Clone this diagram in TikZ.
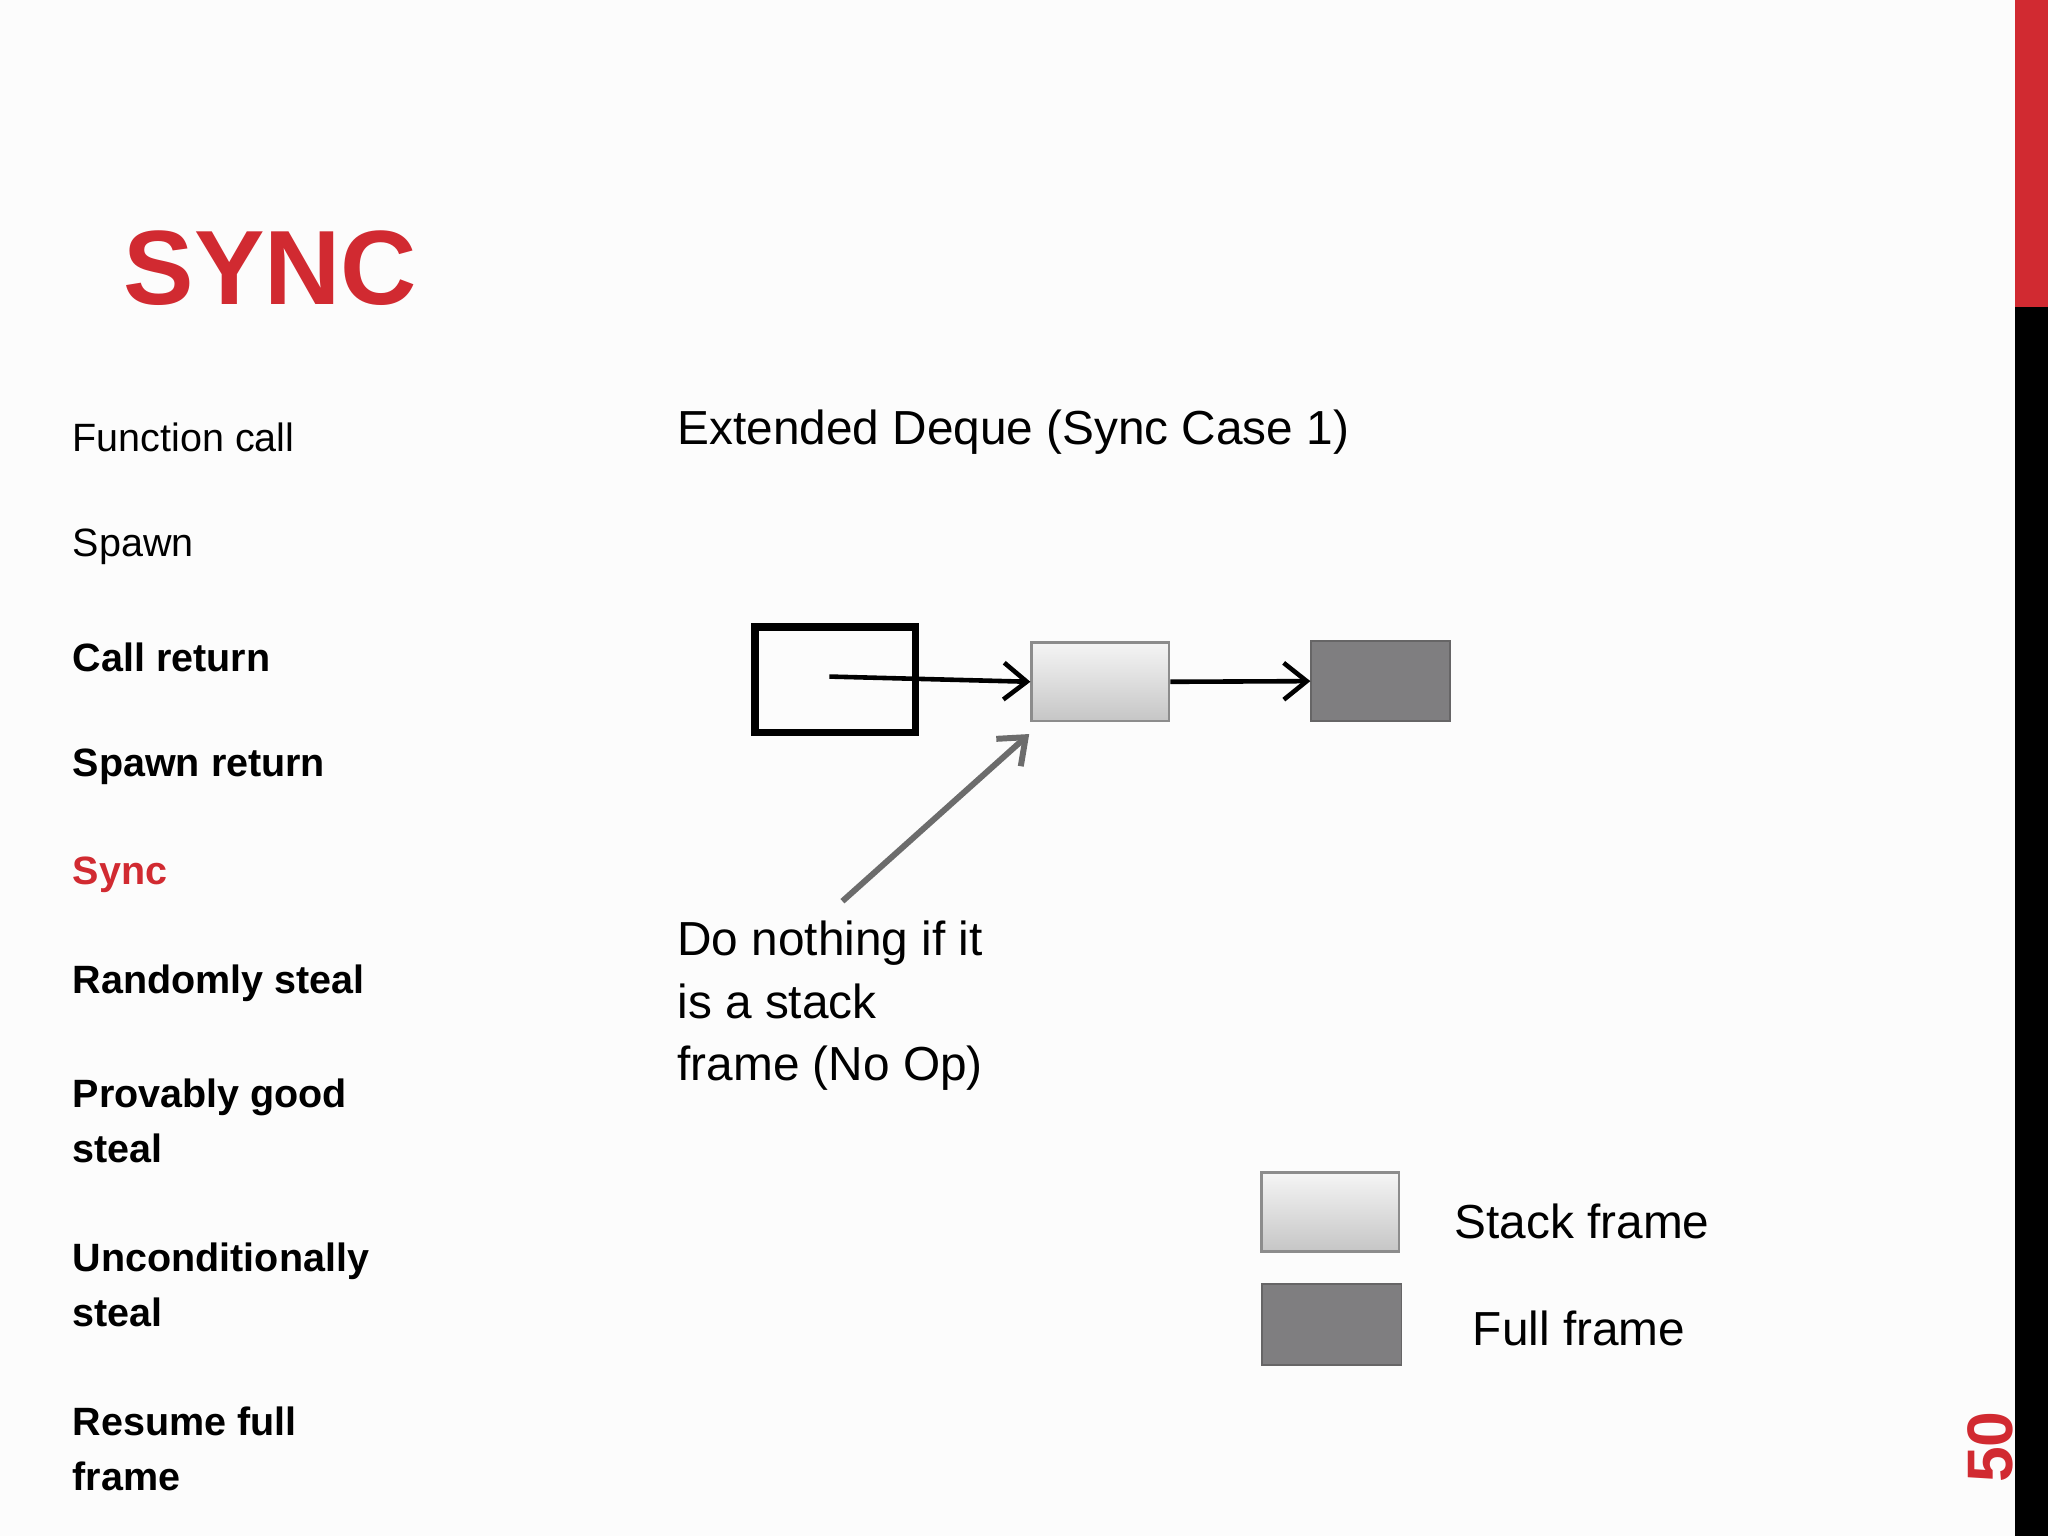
\documentclass[tikz,border=0pt]{standalone}
\usepackage{fontspec}
\setmainfont{Liberation Sans}
\usetikzlibrary{arrows.meta}
\definecolor{sred}{HTML}{D12A31}
\definecolor{dgray}{HTML}{7F7E80}
\tikzset{
  lst/.style={anchor=west,font=\fontsize{8.6pt}{12pt}\selectfont\bfseries,align=left,inner sep=0},
  lstn/.style={lst,font=\fontsize{8.6pt}{12pt}\selectfont},
  big/.style={anchor=west,font=\fontsize{10.4pt}{13.6pt}\selectfont,align=left,inner sep=0},
  sframe/.style={draw=gray!90,line width=0.6pt,top color=white!92!gray,bottom color=gray!45},
  fframe/.style={draw=dgray!80!black,line width=0.4pt,fill=dgray},
  arr/.style={-{Straight Barb[length=5pt,width=8pt]},line width=1pt},
}
\begin{document}
\begin{tikzpicture}[x=0.01cm,y=-0.01cm]
\useasboundingbox (0,0) rectangle (1568,1176);
\fill[white!98!gray] (0,0) rectangle (1543,1176);
\fill[sred] (1543,0) rectangle (1568,235);
\fill[black] (1543,235) rectangle (1568,1176);
\node[anchor=west,inner sep=0,text=sred,font=\fontsize{23pt}{26pt}\selectfont\bfseries] (title) at (94,205) {SYNC};
\node[lstn] (l1) at (55,335) {Function call};
\node[lstn] (l2) at (55,419) {Spawn};
\node[lst] (l3) at (55,503) {Call return};
\node[lst] (l4) at (55,587) {Spawn return};
\node[lst,text=sred] (l5) at (55,670) {Sync};
\node[lst] (l6) at (55,753) {Randomly steal};
\node[lst] (l7) at (55,858) {Provably good\\steal};
\node[lst] (l8) at (55,984) {Unconditionally\\steal};
\node[lst] (l9) at (55,1109) {Resume full\\frame};
\node[big] (hdr) at (518,331) {Extended Deque (Sync Case 1)};
\node[draw,line width=1.6pt,minimum width=1.23cm,minimum height=0.81cm,inner sep=0] (ptr) at (639.5,520.5) {};
\coordinate (ps) at (635,518);
\node[sframe,minimum width=1.05cm,minimum height=0.6cm,inner sep=0] (sf) at (842.5,522) {};
\node[fframe,minimum width=1.06cm,minimum height=0.61cm,inner sep=0] (ff) at (1057,521.5) {};
\draw[arr] (ps) -- (sf.west);
\draw[arr] (sf.east) -- (ff.west);
\node[big] (note) at (518,770) {Do nothing if it\\is a stack\\frame (No Op)};
\coordinate (ns) at (645,690);
\draw[arr,draw=gray!85!black,line width=1.3pt] (ns) -- (788,562);
\node[sframe,minimum width=1.05cm,minimum height=0.6cm,inner sep=0] (lsf) at (1018.5,928) {};
\node[fframe,minimum width=1.07cm,minimum height=0.62cm,inner sep=0] (lff) at (1019.5,1014) {};
\node[big] (lst1) at (1113,935) {Stack frame};
\node[big] (lst2) at (1127,1017) {Full frame};
\node[rotate=90,text=sred,font=\fontsize{14pt}{16pt}\selectfont\bfseries,inner sep=0] (pg) at (1524,1108) {50};
\end{tikzpicture}
\end{document}
